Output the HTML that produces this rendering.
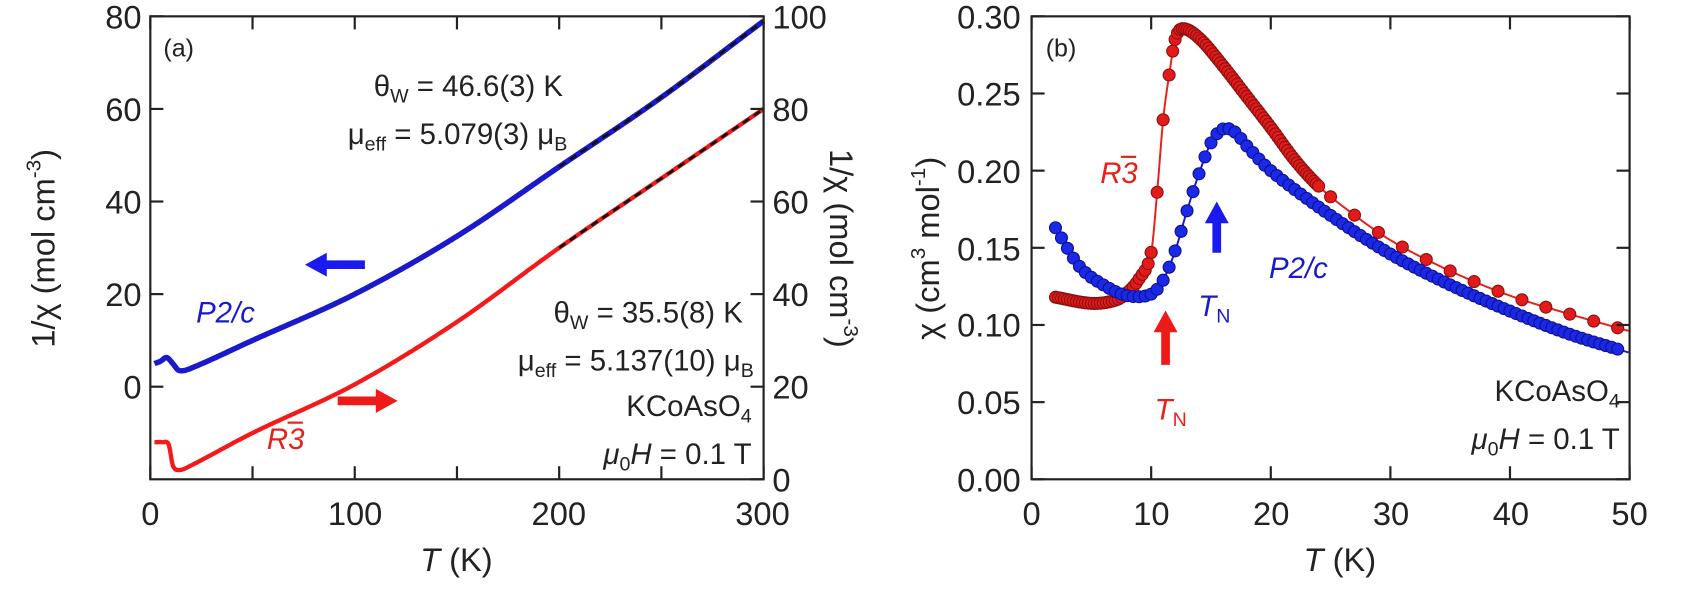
<!DOCTYPE html>
<html><head><meta charset="utf-8"><style>
body{margin:0;background:#fff}
svg{display:block;font-family:"Liberation Sans",sans-serif}
</style></head><body>
<svg id="s" width="1708" height="613" viewBox="0 0 1708 613" xmlns="http://www.w3.org/2000/svg">
<rect width="1708" height="613" fill="#fff"/>
<g transform="scale(1.0893)">
<g id="g"></g>
<g fill="#222" font-size="30">
<text x="130" y="26" text-anchor="end">80</text>
<text x="130" y="111" text-anchor="end">60</text>
<text x="130" y="196" text-anchor="end">40</text>
<text x="130" y="281" text-anchor="end">20</text>
<text x="130" y="366" text-anchor="end">0</text>
<text x="709" y="26">100</text>
<text x="709" y="111">80</text>
<text x="709" y="196">60</text>
<text x="709" y="281">40</text>
<text x="709" y="366">20</text>
<text x="709" y="451">0</text>
<text x="138" y="482" text-anchor="middle">0</text>
<text x="326" y="482" text-anchor="middle">100</text>
<text x="513" y="482" text-anchor="middle">200</text>
<text x="700" y="482" text-anchor="middle">300</text>
<text x="419" y="524" text-anchor="middle"><tspan font-style="italic">T</tspan> (K)</text>
<text transform="translate(50,228) rotate(-90)" text-anchor="middle">1/χ (mol cm<tspan font-size="19" dy="-13">-3</tspan><tspan dy="13">)</tspan></text>
<text transform="translate(762,228) rotate(90)" text-anchor="middle">1/χ (mol cm<tspan font-size="19" dy="-13">-3</tspan><tspan dy="13">)</tspan></text>
<text x="150" y="52" font-size="23">(a)</text>
<text x="430" y="88" text-anchor="middle" font-size="27">θ<tspan font-size="18" dy="6">W</tspan><tspan dy="-6"> = 46.6(3) K</tspan></text>
<text x="420" y="132" text-anchor="middle" font-size="27">μ<tspan font-size="18" dy="6">eff</tspan><tspan dy="-6"> = 5.079(3) μ</tspan><tspan font-size="18" dy="6">B</tspan></text>
<text x="682" y="296" text-anchor="end" font-size="27">θ<tspan font-size="18" dy="6">W</tspan><tspan dy="-6"> = 35.5(8) K</tspan></text>
<text x="692" y="340" text-anchor="end" font-size="27">μ<tspan font-size="18" dy="6">eff</tspan><tspan dy="-6"> = 5.137(10) μ</tspan><tspan font-size="18" dy="6">B</tspan></text>
<text x="690" y="382" text-anchor="end" font-size="27">KCoAsO<tspan font-size="18" dy="6">4</tspan></text>
<text x="690" y="426" text-anchor="end" font-size="27"><tspan font-style="italic">μ</tspan><tspan font-size="18" dy="6">0</tspan><tspan dy="-6" font-style="italic">H</tspan> = 0.1 T</text>
<text x="180" y="296" fill="#1a1acc" font-style="italic" font-size="27">P2/c</text>
<text x="245" y="412" fill="#e8201a" font-style="italic" font-size="27">R3</text>
<line x1="264" y1="388" x2="278" y2="388" stroke="#e8201a" stroke-width="2"/>
<text x="937" y="26" text-anchor="end">0.30</text>
<text x="937" y="97" text-anchor="end">0.25</text>
<text x="937" y="168" text-anchor="end">0.20</text>
<text x="937" y="239" text-anchor="end">0.15</text>
<text x="937" y="309" text-anchor="end">0.10</text>
<text x="937" y="380" text-anchor="end">0.05</text>
<text x="937" y="451" text-anchor="end">0.00</text>
<text x="947" y="482" text-anchor="middle">0</text>
<text x="1057" y="482" text-anchor="middle">10</text>
<text x="1167" y="482" text-anchor="middle">20</text>
<text x="1277" y="482" text-anchor="middle">30</text>
<text x="1387" y="482" text-anchor="middle">40</text>
<text x="1496" y="482" text-anchor="middle">50</text>
<text x="1230" y="524" text-anchor="middle"><tspan font-style="italic">T</tspan> (K)</text>
<text transform="translate(862,228) rotate(-90)" text-anchor="middle">χ (cm<tspan font-size="19" dy="-13">3</tspan><tspan dy="13"> mol</tspan><tspan font-size="19" dy="-13">-1</tspan><tspan dy="13">)</tspan></text>
<text x="960" y="52" font-size="23">(b)</text>
<text x="1010" y="168" fill="#e8201a" font-style="italic" font-size="27">R3</text>
<line x1="1029" y1="144" x2="1043" y2="144" stroke="#e8201a" stroke-width="2"/>
<text x="1060" y="385" fill="#e8201a" font-style="italic" font-size="27">T<tspan font-size="18" dy="6" font-style="normal">N</tspan></text>
<text x="1100" y="290" fill="#1a1acc" font-style="italic" font-size="27">T<tspan font-size="18" dy="6" font-style="normal">N</tspan></text>
<text x="1165" y="255" fill="#1a1acc" font-style="italic" font-size="27">P2/c</text>
<text x="1487" y="368" text-anchor="end" font-size="27">KCoAsO<tspan font-size="18" dy="6">4</tspan></text>
<text x="1487" y="412" text-anchor="end" font-size="27"><tspan font-style="italic">μ</tspan><tspan font-size="18" dy="6">0</tspan><tspan dy="-6" font-style="italic">H</tspan> = 0.1 T</text>
</g>
<polygon points="280,243 300,232 300,239 335,239 335,247 300,247 300,254" fill="#1a1aee"/>
<polygon points="365,368 345,357 345,364 310,364 310,372 345,372 345,379" fill="#ee1a1a"/>
<polygon points="1070,285 1059,305 1066,305 1066,335 1074,335 1074,305 1081,305" fill="#ee1a1a"/>
<polygon points="1117,185 1106,205 1113,205 1113,232 1121,232 1121,205 1128,205" fill="#1a1aee"/>
<rect x="138" y="15" width="563" height="425" fill="none" stroke="#222" stroke-width="2"/>
<rect x="947" y="15" width="549" height="425" fill="none" stroke="#222" stroke-width="2"/>
</g>
</svg>
<script>
const g=document.getElementById('g');let h='';
function interp(pts,x){for(let i=0;i<pts.length-1;i++){if(x<=pts[i+1][0]){const [x0,y0]=pts[i],[x1,y1]=pts[i+1];
const p=pts[i-1]||pts[i],n=pts[i+2]||pts[i+1];const t=(x-x0)/(x1-x0);
const m0=(y1-p[1])/(x1-p[0]||1)*(x1-x0),m1=(n[1]-y0)/(n[0]-x0||1)*(x1-x0);
const t2=t*t,t3=t2*t;return (2*t3-3*t2+1)*y0+(t3-2*t2+t)*m0+(-2*t3+3*t2)*y1+(t3-t2)*m1;}}return pts[pts.length-1][1];}
const ax=T=>138+T*563/300, ay=v=>15+(80-v)*4.25;
const blue=[[2,5],[5,5.5],[8,6.3],[11,5],[14,3.5],[20,4],[50,10],[100,20],[150,32.5],[200,47.5],[250,62.5],[300,79]];
const red=[[2,-12],[6,-12],[9,-12.5],[11,-17],[14,-18],[20,-17],[50,-10],[100,0.5],[150,14],[200,30],[250,45],[300,60]];
function path(pts,f,fx,fy,a,b,st){let d='';for(let T=a;T<=b;T+=st){d+=(d?'L':'M')+fx(T).toFixed(1)+','+fy(f(pts,T)).toFixed(1);}return d;}
h+=`<path d="${path(blue,interp,ax,ay,2,300,0.5)}" stroke="#1a1acc" stroke-width="5" fill="none"/>`;
h+=`<path d="${path(red,interp,ax,ay,2,300,0.5)}" stroke="#f21a1a" stroke-width="4" fill="none"/>`;
h+=`<path d="${path(blue,interp,ax,ay,200,300,1)}" stroke="#111" stroke-width="2.5" stroke-dasharray="7,5" fill="none"/>`;
h+=`<path d="${path(red,interp,ax,ay,200,300,1)}" stroke="#111" stroke-width="2.5" stroke-dasharray="7,5" fill="none"/>`;
for(let T=0;T<=300;T+=50){h+=`<line x1="${ax(T)}" y1="440" x2="${ax(T)}" y2="428" stroke="#222" stroke-width="2"/><line x1="${ax(T)}" y1="15" x2="${ax(T)}" y2="27" stroke="#222" stroke-width="2"/>`;}
for(let v=0;v<=80;v+=20){h+=`<line x1="138" y1="${ay(v)}" x2="150" y2="${ay(v)}" stroke="#222" stroke-width="2"/>`;}
for(let v=0;v<=100;v+=20){const y=440-v*4.25;h+=`<line x1="701" y1="${y}" x2="689" y2="${y}" stroke="#222" stroke-width="2"/>`;}
const bx=T=>947+T*549/50, by=v=>440-v*425/0.30;
const rb=[[2,0.118],[5,0.114],[7,0.116],[8,0.121],[9,0.13],[10,0.147],[10.5,0.186],[11,0.233],[11.5,0.262],[12,0.285],[12.6,0.292],[14,0.286],[16,0.268],[18,0.248],[20,0.228],[22,0.207],[24,0.19],[26,0.177],[30,0.155],[35,0.135],[40,0.119],[45,0.107],[50,0.096]];
const bb=[[2,0.163],[4,0.138],[6,0.126],[8,0.119],[10,0.12],[11,0.129],[12,0.148],[13,0.174],[14,0.198],[15,0.218],[16,0.227],[17,0.225],[18,0.216],[20,0.2],[25,0.171],[30,0.146],[35,0.126],[40,0.109],[45,0.094],[50,0.082]];
h+=`<path d="${path(rb,interp,bx,by,2,50,0.1)}" stroke="#e8201a" stroke-width="1.8" fill="none"/>`;
h+=`<path d="${path(bb,interp,bx,by,2,50,0.1)}" stroke="#1a1acc" stroke-width="1.8" fill="none"/>`;
let rt=[];for(let T=2;T<=10;T+=0.25)rt.push(T);for(let T=10;T<=11.6;T+=0.5)rt.push(T);for(let T=11.8;T<=24;T+=0.2)rt.push(T);for(let T=25;T<=49;T+=2)rt.push(T);
for(const T of rt)h+=`<circle cx="${bx(T)}" cy="${by(interp(rb,T))}" r="5.5" fill="#e21a1a" stroke="#8a1010" stroke-width="1"/>`;
for(let T=2;T<=49;T+=0.5)h+=`<circle cx="${bx(T)}" cy="${by(interp(bb,T))}" r="5.5" fill="#1a28e8" stroke="#10108a" stroke-width="1"/>`;
for(let T=0;T<=50;T+=10){h+=`<line x1="${bx(T)}" y1="440" x2="${bx(T)}" y2="428" stroke="#222" stroke-width="2"/><line x1="${bx(T)}" y1="15" x2="${bx(T)}" y2="27" stroke="#222" stroke-width="2"/>`;}
for(let v=0;v<=6;v++){const y=by(v*0.05);h+=`<line x1="947" y1="${y}" x2="959" y2="${y}" stroke="#222" stroke-width="2"/><line x1="1496" y1="${y}" x2="1484" y2="${y}" stroke="#222" stroke-width="2"/>`;}
g.innerHTML=h;
</script>
</body></html>
